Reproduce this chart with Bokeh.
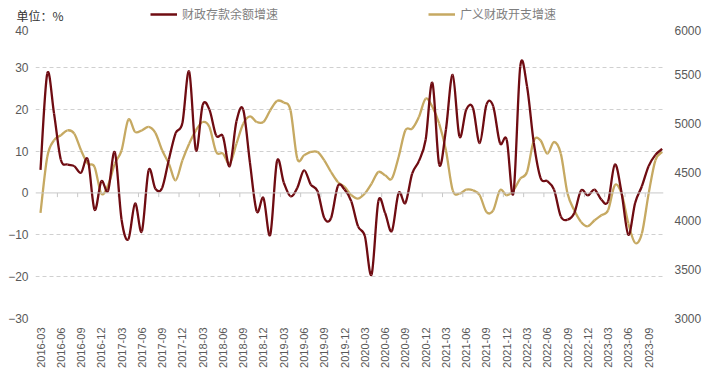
import math
from bokeh.plotting import figure
from bokeh.layouts import column
from bokeh.models import (Range1d, LinearAxis, FixedTicker, Legend, LegendItem,
                          Span)
from bokeh.embed import file_html
from bokeh.resources import INLINE

# ---------------- data ----------------
tick_labels = ["2016-03", "2016-06", "2016-09", "2016-12", "2017-03", "2017-06",
               "2017-09", "2017-12", "2018-03", "2018-06", "2018-09", "2018-12",
               "2019-03", "2019-06", "2019-09", "2019-12", "2020-03", "2020-06",
               "2020-09", "2020-12", "2021-03", "2021-06", "2021-09", "2021-12",
               "2022-03", "2022-06", "2022-09", "2022-12", "2023-03", "2023-06",
               "2023-09"]

# 财政存款余额增速 (%), monthly 2016-03 .. 2023-11, left axis
deposit_growth = [5.5, 28.5, 19.0, 8.0, 6.8, 6.4, 4.8, 8.0, -4.0, 2.8,
                  0.5, 9.7, -6.4, -11.1, -2.5, -9.2, 5.4, 1.0, 1.2, 8.0,
                  14.3, 16.7, 29.0, 10.2, 21.0, 19.9, 13.7, 13.5, 6.4, 17.1,
                  19.9, 7.2, -4.4, -1.2, -10.0, 7.6, 2.5, -0.8, 1.2, 5.4,
                  2.0, 0.4, -6.0, -6.0, 1.6, 0.8, -2.0, -8.0, -10.3, -19.5,
                  -2.0, -4.8, -9.1, 0.0, -2.4, 4.6, 7.6, 12.7, 26.3, 6.8,
                  15.1, 28.2, 13.5, 19.9, 20.3, 11.9, 21.1, 20.7, 11.9, 12.7,
                  0.0, 30.2, 25.5, 12.0, 3.6, 2.8, 0.8, -5.6, -6.4, -4.8,
                  0.6, -0.6, 0.8, -1.6, -2.0, 6.8, 0.0, -10.0, -2.4, 1.6,
                  6.4, 9.1, 10.5]

# 广义财政开支增速, right axis
spending_growth = [4081, 4654, 4824, 4876, 4927, 4893, 4722, 4586, 4552, 4279,
                   4364, 4586, 4722, 5036, 4910, 4927, 4961, 4900, 4722, 4586,
                   4415, 4620, 4790, 4927, 5012, 4961, 4705, 4688, 4586, 4790,
                   4995, 5070, 5012, 5012, 5131, 5227, 5212, 5131, 4637, 4671,
                   4705, 4705, 4620, 4500, 4398, 4347, 4262, 4228, 4279, 4381,
                   4500, 4466, 4432, 4654, 4927, 4944, 5063, 5251, 5165, 4995,
                   4722, 4313, 4279, 4320, 4313, 4262, 4091, 4108, 4313, 4262,
                   4313, 4432, 4500, 4820, 4824, 4688, 4807, 4688, 4279, 4108,
                   3989, 3945, 4006, 4057, 4108, 4364, 4279, 3972, 3774, 3870,
                   4279, 4620, 4705]

left_ticks = [-30, -20, -10, 0, 10, 20, 30, 40]
right_ticks = [3000, 3500, 4000, 4500, 5000, 5500, 6000]
series_names = ["财政存款余额增速", "广义财政开支增速"]
unit_text = "单位：%"

RED = "#6F0C12"
GOLD = "#C6A962"
TXT = "#595959"

n = len(deposit_growth)
months = list(range(n))
label_pos = [3 * i for i in range(len(tick_labels))]


def smooth_segments(xv, yv):
    """Cubic Bezier pieces through every data point (Catmull-Rom style)."""
    m = len(xv)
    d = dict(x0=[], y0=[], x1=[], y1=[], cx0=[], cy0=[], cx1=[], cy1=[])
    for i in range(m - 1):
        a = i - 1 if i > 0 else i
        b = i + 2 if i + 2 < m else i + 1
        d["x0"].append(xv[i]); d["y0"].append(yv[i])
        d["x1"].append(xv[i + 1]); d["y1"].append(yv[i + 1])
        d["cx0"].append(xv[i] + (xv[i + 1] - xv[a]) / 6.0)
        d["cy0"].append(yv[i] + (yv[i + 1] - yv[a]) / 6.0)
        d["cx1"].append(xv[i + 1] - (xv[b] - xv[i]) / 6.0)
        d["cy1"].append(yv[i + 1] - (yv[b] - yv[i]) / 6.0)
    return d


# ---------------- header strip (unit + legend) ----------------
top = figure(width=705, height=25, output_backend="svg", toolbar_location=None,
             x_range=Range1d(0, 628), y_range=Range1d(0, 25),
             x_axis_type=None, y_axis_type=None,
             min_border_left=35, min_border_right=42, min_border_top=0,
             min_border_bottom=0)
top.outline_line_color = None
top.xgrid.visible = False
top.ygrid.visible = False
top.background_fill_alpha = 0
top.border_fill_alpha = 0

unit_axis = LinearAxis(ticker=FixedTicker(ticks=[10]),
                       major_label_overrides={10: unit_text})
unit_axis.axis_line_color = None
unit_axis.major_tick_line_color = None
unit_axis.minor_tick_line_color = None
unit_axis.major_tick_out = 0
unit_axis.major_tick_in = 0
unit_axis.major_label_standoff = -28
unit_axis.major_label_text_font = "Noto Sans CJK SC"
unit_axis.major_label_text_font_size = "12px"
unit_axis.major_label_text_color = "#333333"
top.add_layout(unit_axis, "left")

nan = float("nan")
leg_red = top.line(x=[0, 1], y=[nan, nan], line_color=RED, line_width=2.5)
leg_gold = top.line(x=[0, 1], y=[nan, nan], line_color=GOLD, line_width=2.5)
for name, rend, loc in [(series_names[0], leg_red, (115, 3)),
                        (series_names[1], leg_gold, (393, 3))]:
    lg = Legend(items=[LegendItem(label=name, renderers=[rend])], location=loc,
                orientation="horizontal", padding=0, margin=0, spacing=0,
                border_line_color=None, background_fill_alpha=0,
                glyph_width=27, glyph_height=14, label_height=14,
                label_standoff=5, label_text_font="Noto Sans CJK SC",
                label_text_font_size="12px", label_text_color="#7f7f7f")
    top.add_layout(lg, "center")

# ---------------- main chart ----------------
p = figure(width=705, height=353, output_backend="svg", toolbar_location=None,
           x_range=Range1d(-0.74, 92.2), y_range=Range1d(-30, 40),
           min_border_left=35, min_border_right=42, min_border_top=0,
           min_border_bottom=60)
p.outline_line_color = None
p.background_fill_color = "white"
p.border_fill_color = "white"
p.extra_y_ranges = {"right": Range1d(3000, 6000)}

# grid
p.xgrid.visible = False
p.ygrid.ticker = FixedTicker(ticks=[t for t in left_ticks if t != 0])
p.ygrid.grid_line_color = "#d0d0d0"
p.ygrid.grid_line_dash = "4 3"
p.ygrid.grid_line_width = 1
p.add_layout(Span(location=0, dimension="width", line_color="#c8c8c8",
                  line_width=1))
# small category ticks on the zero line
tick_x = [3 * i - 0.5 for i in range(1, len(tick_labels) + 1)]
p.segment(x0=tick_x, y0=[0] * len(tick_x), x1=tick_x, y1=[-1.0] * len(tick_x),
          line_color="#c8c8c8", line_width=1)

# axes
p.xaxis.ticker = FixedTicker(ticks=label_pos)
p.xaxis.major_label_overrides = {pos: lbl for pos, lbl in zip(label_pos, tick_labels)}
p.xaxis.major_label_orientation = math.pi / 2
p.xaxis.axis_line_color = None
p.xaxis.major_tick_line_color = None
p.xaxis.minor_tick_line_color = None
p.xaxis.major_tick_out = 0
p.xaxis.major_tick_in = 0
p.xaxis.major_label_text_font = "Liberation Sans"
p.xaxis.major_label_text_font_size = "11px"
p.xaxis.major_label_text_color = TXT
p.xaxis.major_label_standoff = 9

p.yaxis.ticker = FixedTicker(ticks=left_ticks)
p.yaxis.axis_line_color = None
p.yaxis.major_tick_line_color = None
p.yaxis.minor_tick_line_color = None
p.yaxis.major_tick_out = 0
p.yaxis.major_tick_in = 0
p.yaxis.major_label_text_font = "Liberation Sans"
p.yaxis.major_label_text_font_size = "12px"
p.yaxis.major_label_text_color = TXT
p.yaxis.major_label_standoff = 7

ra = LinearAxis(y_range_name="right", ticker=FixedTicker(ticks=right_ticks))
ra.axis_line_color = None
ra.major_tick_line_color = None
ra.minor_tick_line_color = None
ra.major_tick_out = 0
ra.major_tick_in = 0
ra.major_label_text_font = "Liberation Sans"
ra.major_label_text_font_size = "12px"
ra.major_label_text_color = TXT
ra.major_label_standoff = 11
p.add_layout(ra, "right")

# series
sg = smooth_segments(months, spending_growth)
p.bezier(source=sg, x0="x0", y0="y0", x1="x1", y1="y1",
         cx0="cx0", cy0="cy0", cx1="cx1", cy1="cy1",
         line_color=GOLD, line_width=2.3, y_range_name="right")
dg = smooth_segments(months, deposit_growth)
p.bezier(source=dg, x0="x0", y0="y0", x1="x1", y1="y1",
         cx0="cx0", cy0="cy0", cx1="cx1", cy1="cy1",
         line_color=RED, line_width=2.3)

layout = column(top, p, spacing=0)
open("out.html", "w").write(file_html(layout, INLINE))
